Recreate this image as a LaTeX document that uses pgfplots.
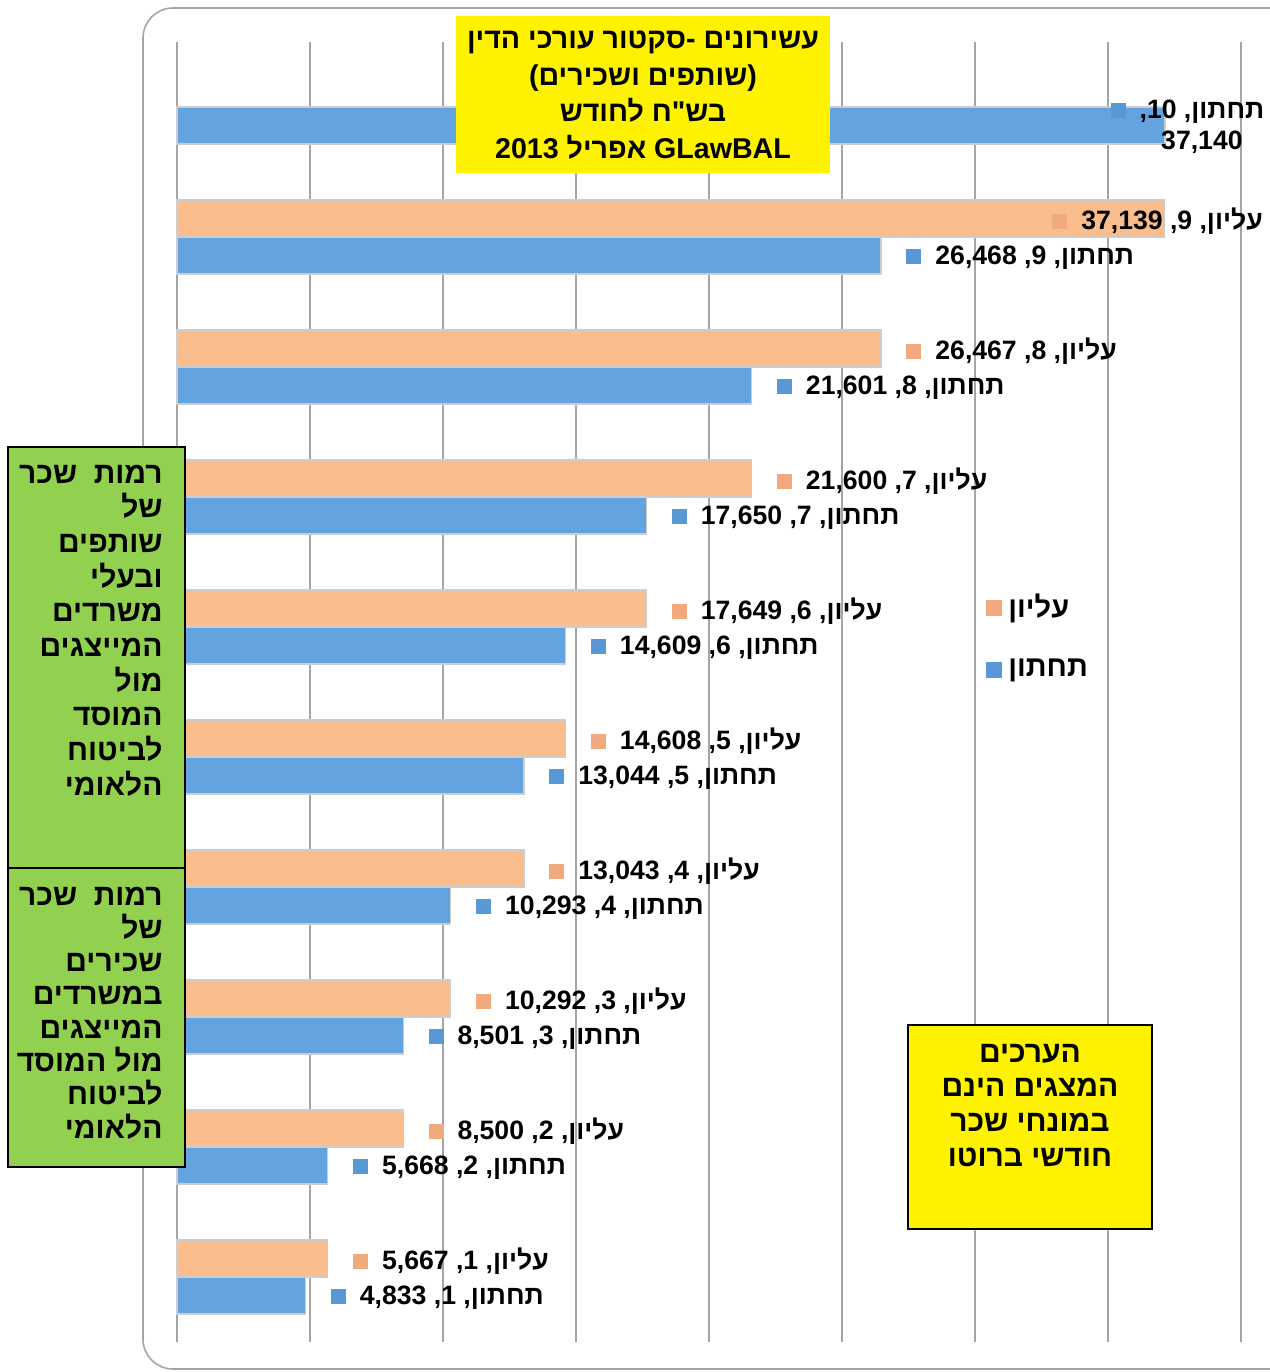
\documentclass[border=0pt]{standalone}
\usepackage{pgfplots}
\pgfplotsset{compat=1.18}
\usepackage{fontspec}
\setmainfont{Liberation Sans}
\newfontfamily\heb[Script=Hebrew]{Liberation Sans}
\newfontfamily\lat{Liberation Sans}
\TeXXeTstate=1
\definecolor{orB}{RGB}{250,190,142}
\definecolor{blB}{RGB}{99,164,224}
\definecolor{orS}{RGB}{240,170,126}
\definecolor{blS}{RGB}{88,152,212}
\definecolor{gridc}{RGB}{165,165,165}
\definecolor{grn}{RGB}{146,208,80}
\definecolor{edge}{RGB}{205,205,205}
\tikzset{lbl/.style={anchor=west, inner sep=0pt, font=\heb\bfseries\fontsize{13.3}{15}\selectfont}}
\newcommand{\sq}[1]{\raisebox{0.3pt}{\textcolor{#1}{\rule{7.5pt}{7.5pt}}}}
\newcommand{\lab}[4]{\sq{#1}\hspace{7pt}\beginR #2\kern0pt,\ \beginL #3\endL\kern0pt,\ \beginL #4\endL\endR}
\begin{document}
\begin{tikzpicture}
\begin{scope}[x=0.5pt,y=-0.5pt]
\draw[gridc, line width=0.8pt, rounded corners=15pt] (143,8) rectangle (1310,1369);
\end{scope}
\begin{axis}[
  at={(88.5pt,-671pt)}, anchor=south west,
  scale only axis, width=532pt, height=650pt,
  xmin=0, xmax=40000, ymin=0.5, ymax=10.5,
  xbar, bar width=18.5pt,
  xtick={0,5000,...,40000}, scaled x ticks=false,
  xticklabel style={opacity=0}, ytick=\empty,
  xmajorgrids, major grid style={line width=1.3pt, gridc},
  tick style={draw=none}, axis line style={draw=none},
  clip=false,
]
\addplot[fill=orB, draw=edge, line width=0.6pt, bar shift=9.25pt] coordinates {
(5667,1) (8500,2) (10292,3) (13043,4) (14608,5) (17649,6) (21600,7) (26467,8) (37139,9)};
\addplot[fill=blB, draw=edge, line width=0.6pt, bar shift=-9.25pt] coordinates {
(4833,1) (5668,2) (8501,3) (10293,4) (13044,5) (14609,6) (17650,7) (21601,8) (26468,9) (37140,10)};
% labels upper
\node[lbl, xshift=12.5pt, yshift=8pt] at (axis cs:5667,1) {\lab{orS}{עליון}{1}{5,667}};
\node[lbl, xshift=12.5pt, yshift=8pt] at (axis cs:8500,2) {\lab{orS}{עליון}{2}{8,500}};
\node[lbl, xshift=12.5pt, yshift=8pt] at (axis cs:10292,3) {\lab{orS}{עליון}{3}{10,292}};
\node[lbl, xshift=12.5pt, yshift=8pt] at (axis cs:13043,4) {\lab{orS}{עליון}{4}{13,043}};
\node[lbl, xshift=12.5pt, yshift=8pt] at (axis cs:14608,5) {\lab{orS}{עליון}{5}{14,608}};
\node[lbl, xshift=12.5pt, yshift=8pt] at (axis cs:17649,6) {\lab{orS}{עליון}{6}{17,649}};
\node[lbl, xshift=12.5pt, yshift=8pt] at (axis cs:21600,7) {\lab{orS}{עליון}{7}{21,600}};
\node[lbl, xshift=12.5pt, yshift=8pt] at (axis cs:26467,8) {\lab{orS}{עליון}{8}{26,467}};
\node[lbl, xshift=-56.5pt, yshift=8pt] at (axis cs:37139,9) {\lab{orS}{עליון}{9}{37,139}};
% labels lower
\node[lbl, xshift=12.5pt, yshift=-10.5pt] at (axis cs:4833,1) {\lab{blS}{תחתון}{1}{4,833}};
\node[lbl, xshift=12.5pt, yshift=-10.5pt] at (axis cs:5668,2) {\lab{blS}{תחתון}{2}{5,668}};
\node[lbl, xshift=12.5pt, yshift=-10.5pt] at (axis cs:8501,3) {\lab{blS}{תחתון}{3}{8,501}};
\node[lbl, xshift=12.5pt, yshift=-10.5pt] at (axis cs:10293,4) {\lab{blS}{תחתון}{4}{10,293}};
\node[lbl, xshift=12.5pt, yshift=-10.5pt] at (axis cs:13044,5) {\lab{blS}{תחתון}{5}{13,044}};
\node[lbl, xshift=12.5pt, yshift=-10.5pt] at (axis cs:14609,6) {\lab{blS}{תחתון}{6}{14,609}};
\node[lbl, xshift=12.5pt, yshift=-10.5pt] at (axis cs:17650,7) {\lab{blS}{תחתון}{7}{17,650}};
\node[lbl, xshift=12.5pt, yshift=-10.5pt] at (axis cs:21601,8) {\lab{blS}{תחתון}{8}{21,601}};
\node[lbl, xshift=12.5pt, yshift=-10.5pt] at (axis cs:26468,9) {\lab{blS}{תחתון}{9}{26,468}};
\node[lbl, anchor=center, align=center, xshift=18.5pt, yshift=-10pt, font=\heb\bfseries\fontsize{13.3}{15.5}\selectfont] at (axis cs:37140,10) {\beginR תחתון\kern0pt,\ \beginL 10\endL\kern0pt,\endR\\ 37,140};
\node[inner sep=0pt, xshift=-23pt, yshift=-1.75pt] at (axis cs:37140,10) {\textcolor{blS}{\rule{7.5pt}{7.5pt}}};
\end{axis}
\begin{scope}[x=0.5pt,y=-0.5pt]
% title
\fill[yellow] (456,16) rectangle (830,173);
\node[align=center, inner sep=0pt, font=\heb\bfseries\fontsize{14.3}{18.3}\selectfont] at (643,95) {%
\beginR עשירונים -\kern0pt סקטור עורכי הדין\endR\\
{\lat(}\beginR שותפים ושכירים\endR{\lat)}\\
\beginR בש"ח לחודש\endR\\
\beginR\beginL GLawBAL\endL\ אפריל\ \beginL 2013\endL\endR};
% legend
\fill[orS] (986,600) rectangle (1002,616);
\node[anchor=west, inner sep=0pt, font=\heb\bfseries\fontsize{14.5}{16}\selectfont] at (1008,608) {\beginR עליון\endR};
\fill[blS] (986,662) rectangle (1002,678);
\node[anchor=west, inner sep=0pt, font=\heb\bfseries\fontsize{14.5}{16}\selectfont] at (1008,670) {\beginR תחתון\endR};
% green boxes
\draw[fill=grn, line width=1pt] (8,447) rectangle (185,868);
\draw[fill=grn, line width=1pt] (8,868) rectangle (185,1167);
\foreach \t [count=\i from 0] in {רמות\ \ שכר, של, שותפים, ובעלי, משרדים, המייצגים, מול, המוסד, לביטוח, הלאומי}
  \node[anchor=base east, inner sep=0pt, font=\heb\bfseries\fontsize{15}{17}\selectfont] at (163,{483+34.7*\i}) {\beginR\t\endR};
\foreach \t [count=\i from 0] in {רמות\ \ שכר, של, שכירים, במשרדים, המייצגים, מול המוסד, לביטוח, הלאומי}
  \node[anchor=base east, inner sep=0pt, font=\heb\bfseries\fontsize{15}{17}\selectfont] at (163,{905+33.3*\i}) {\beginR\t\endR};
% note box
\draw[fill=yellow, line width=1pt] (908,1025) rectangle (1152,1229);
\foreach \t [count=\i from 0] in {הערכים, המצגים הינם, במונחי שכר, חודשי ברוטו}
  \node[anchor=base, inner sep=0pt, font=\heb\bfseries\fontsize{15}{17}\selectfont] at (1030,{1062+34.7*\i}) {\beginR\t\endR};
\end{scope}
\pgfresetboundingbox
\path[use as bounding box] (0,0) rectangle (635pt,-686pt);
\end{tikzpicture}
\end{document}
